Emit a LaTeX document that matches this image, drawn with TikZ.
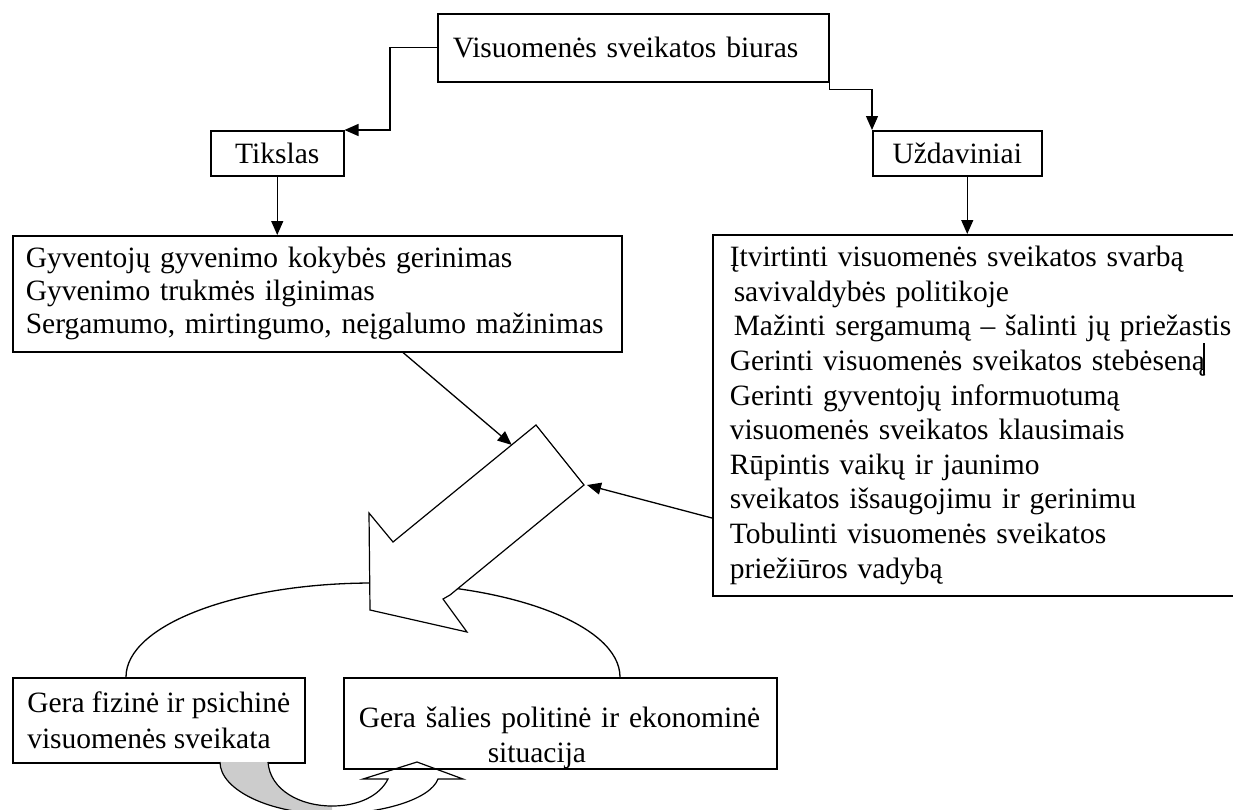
\documentclass[tikz,border=0pt]{standalone}
\usepackage{fontspec}
\setmainfont{Liberation Serif}
\usetikzlibrary{arrows.meta,calc}
\begin{document}
\begin{tikzpicture}[x=1pt,y=-1pt,
  box/.style={draw,line width=1.5pt,inner sep=0pt,fill=white,font=\fontsize{29.5}{34.6}\selectfont},
  conn/.style={line width=1.3pt,-{Triangle[length=14pt,width=12pt]}},
  outline/.style={line width=1.2pt}
]
\useasboundingbox (0,0) rectangle (1233,809);
\clip (0,0) rectangle (1233,809);

% boxes
\node[box,anchor=north west,minimum width=391pt,minimum height=68pt,text width=361pt,inner xsep=15pt,align=left] (top) at (437,13) {Visuomenės sveikatos biuras};
\node[box,anchor=north west,minimum width=133pt,minimum height=45pt] (tik) at (210,130) {Tikslas};
\node[box,anchor=north west,minimum width=169pt,minimum height=45pt] (uzd) at (872,130) {Uždaviniai};
\node[box,anchor=north west,minimum width=609pt,minimum height=116pt,text width=583pt,inner xsep=13pt,align=left,font=\fontsize{29.5}{33}\selectfont] (goal) at (12,235)
  {Gyventojų gyvenimo kokybės gerinimas\\Gyvenimo trukmės ilginimas\\Sergamumo, mirtingumo, neįgalumo mažinimas};
\node[box,anchor=north west,minimum width=560pt,minimum height=361pt,text width=526pt,inner xsep=17pt,align=left] (tasks) at (712,234)
  {Įtvirtinti visuomenės sveikatos svarbą\\\hspace*{4pt}savivaldybės politikoje\\\hspace*{4pt}Mažinti sergamumą – šalinti jų priežastis\\Gerinti visuomenės sveikatos stebėseną\\Gerinti gyventojų informuotumą\\visuomenės sveikatos klausimais\\Rūpintis vaikų ir jaunimo\\sveikatos išsaugojimu ir gerinimu\\Tobulinti visuomenės sveikatos\\priežiūros vadybą};
\draw[line width=2pt] (1204,343) -- (1204,375);

% connectors
\draw[conn] (top.west) -- ++(-47,0) |- (tik.north east);
\draw[conn] (top.south east) -- ++(0,7) -| (uzd.north west);
\draw[conn] (tik.south) -- (tik.south |- goal.north);
\draw[conn] ([xshift=10pt]uzd.south) -- ([xshift=10pt]uzd.south |- tasks.north);

% ellipse behind big arrow
\begin{scope}
  \clip (0,0) rectangle (1233,677);
  \draw[line width=1.3pt] (373,677) ellipse [x radius=247pt, y radius=94pt];
\end{scope}

% big hollow arrow
\coordinate (A) at (536,425);
\coordinate (B) at (584,485);
\coordinate (C) at (450,595);
\coordinate (D) at (443,599);
\coordinate (E) at (467,632);
\coordinate (F) at (370,610);
\coordinate (G) at (369,513);
\coordinate (H) at (393,542);
\draw[outline,fill=white] (A) -- (B) -- (C) -- (D) -- (E) -- (F) -- (G) -- (H) -- cycle;

\draw[conn] ($(goal.south west)+(391,0)$) -- ($(A)!0.17!(H)$);
\draw[conn] ($(tasks.north west)+(0,284)$) -- ($(B)+(3,0)$);

% bottom boxes
\node[box,anchor=north west,minimum width=292pt,minimum height=85pt,align=left,font=\fontsize{29.5}{36}\selectfont] (health) at (12,677)
  {Gera fizinė ir psichinė\\visuomenės sveikata};
\node[box,anchor=north west,minimum width=433pt,minimum height=85pt,text width=403pt,inner xsep=15pt,align=left,font=\fontsize{29.5}{35}\selectfont] (econ) at (343,677)
  {\rule{0pt}{50pt}Gera šalies politinė ir ekonominė\\\hspace*{129pt}situacija};

% U-turn arrow
\begin{scope}
  \clip (0,700) rectangle (332,900);
  \fill[black!20] (220,762) .. controls (220,790) and (270,814) .. (330,814)
     .. controls (380,814) and (430,800) .. (438,779) -- (463,779) -- (417,762) -- (363,779) -- (388,779)
     .. controls (380,795) and (360,806) .. (332,806) .. controls (300,806) and (270,790) .. (268,762) -- cycle;
\end{scope}
\draw[outline] (220,762) .. controls (220,790) and (270,814) .. (330,814)
     .. controls (380,814) and (430,800) .. (438,779) -- (463,779) -- (417,762) -- (363,779) -- (388,779)
     .. controls (380,795) and (360,806) .. (332,806) .. controls (300,806) and (270,790) .. (268,762);
\end{tikzpicture}
\end{document}
